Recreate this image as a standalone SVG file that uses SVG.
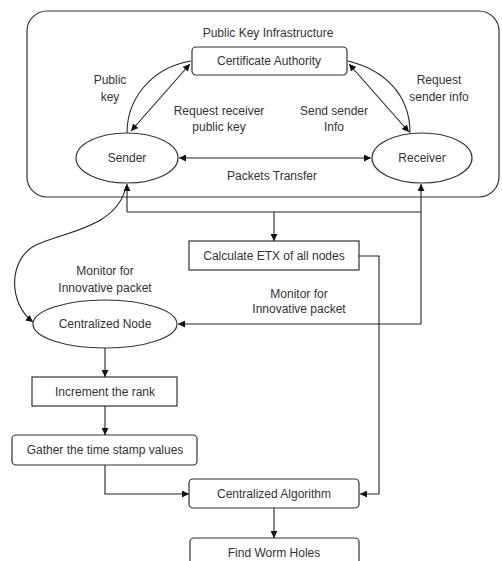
<svg xmlns="http://www.w3.org/2000/svg" width="502" height="561" viewBox="0 0 502 561">
<defs>
<style>
.box{fill:#fff;stroke:#333;stroke-width:1.2}
.frame{fill:none;stroke:#333;stroke-width:1.2}
.ln{fill:none;stroke:#222;stroke-width:1.1}
text{font-family:"Liberation Sans",Arial,sans-serif;font-size:12px;fill:#333;text-anchor:middle}
</style>
<marker id="ah" viewBox="0 0 10 10" refX="10" refY="5" markerWidth="8" markerHeight="7" markerUnits="userSpaceOnUse" orient="auto-start-reverse">
<path d="M0,0 L10,5 L0,10 z" fill="#111"/>
</marker>
</defs>
<rect width="502" height="561" fill="#fff"/>
<g id="pki">
<rect class="frame" x="27" y="11" width="472" height="186" rx="20"/>
<text x="268" y="37">Public Key Infrastructure</text>
</g>
<g id="ca">
<rect class="box" x="192" y="47" width="155" height="28" rx="4"/>
<text x="269" y="65">Certificate Authority</text>
</g>
<g id="sender">
<ellipse class="box" cx="127" cy="158" rx="51" ry="25"/>
<text x="127" y="162">Sender</text>
</g>
<g id="receiver">
<ellipse class="box" cx="422" cy="158" rx="50" ry="25"/>
<text x="422" y="162">Receiver</text>
</g>
<g id="etx">
<rect class="box" x="189" y="241" width="170" height="29"/>
<text x="274" y="260">Calculate ETX of all nodes</text>
</g>
<g id="central-node">
<ellipse class="box" cx="105" cy="324" rx="72" ry="24"/>
<text x="105" y="328">Centralized Node</text>
</g>
<g id="increment">
<rect class="box" x="32" y="377" width="145" height="29"/>
<text x="105" y="396">Increment the rank</text>
</g>
<g id="gather">
<rect class="box" x="12" y="435" width="185" height="30" rx="4"/>
<text x="105" y="454">Gather the time stamp values</text>
</g>
<g id="algorithm">
<rect class="box" x="189" y="479" width="170" height="29" rx="4"/>
<text x="274" y="498">Centralized Algorithm</text>
</g>
<g id="wormholes">
<rect class="box" x="190" y="538" width="169" height="32" rx="4"/>
<text x="274" y="557">Find Worm Holes</text>
</g>
<g id="connectors">
<path class="ln" d="M131,131 L190,64" marker-start="url(#ah)" marker-end="url(#ah)"/>
<path class="ln" d="M127,133 C127,100 150,68 191,61"/>
<path class="ln" d="M349,64 L409,132" marker-start="url(#ah)" marker-end="url(#ah)"/>
<path class="ln" d="M348,61 C385,70 410,95 410,133"/>
<path class="ln" d="M179,158 L371,158" marker-start="url(#ah)" marker-end="url(#ah)"/>
<path class="ln" d="M127,212 L127,184" marker-end="url(#ah)"/>
<path class="ln" d="M127,212 L421,212"/>
<path class="ln" d="M421,324 L421,184" marker-end="url(#ah)"/>
<path class="ln" d="M274,212 L274,241" marker-end="url(#ah)"/>
<path class="ln" d="M126,186 C118,228 62,232 36,245 C8,259 8,303 33,322" marker-end="url(#ah)"/>
<path class="ln" d="M421,324 L178,324" marker-end="url(#ah)"/>
<path class="ln" d="M359,256 L379,256 L379,494 L360,494" marker-end="url(#ah)"/>
<path class="ln" d="M105,348 L105,377" marker-end="url(#ah)"/>
<path class="ln" d="M105,406 L105,435" marker-end="url(#ah)"/>
<path class="ln" d="M105,465 L105,494 L189,494" marker-end="url(#ah)"/>
<path class="ln" d="M274,508 L274,538" marker-end="url(#ah)"/>
</g>
<g id="labels">
<text x="110" y="84">Public</text>
<text x="110" y="101">key</text>
<text x="219" y="115">Request receiver</text>
<text x="219" y="131">public key</text>
<text x="334" y="115">Send sender</text>
<text x="334" y="131">Info</text>
<text x="439" y="84">Request</text>
<text x="439" y="101">sender info</text>
<text x="272" y="180">Packets Transfer</text>
<text x="105" y="275">Monitor for</text>
<text x="105" y="292">Innovative packet</text>
<text x="299" y="298">Monitor for</text>
<text x="299" y="313">Innovative packet</text>
</g>
</svg>
